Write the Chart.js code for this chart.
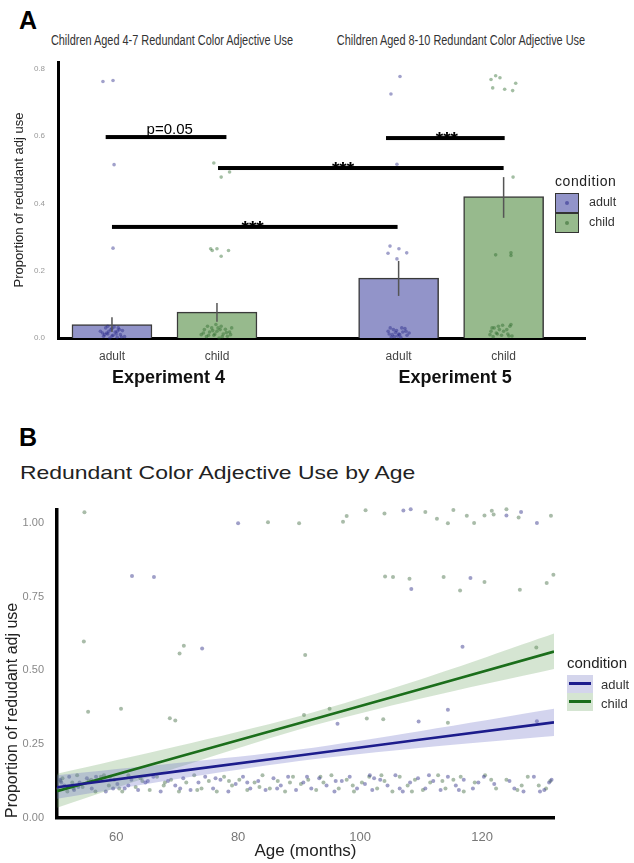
<!DOCTYPE html>
<html lang="en">
<head>
<meta charset="UTF-8">
<title>Redundant Color Adjective Use</title>
<script src="https://cdn.jsdelivr.net/npm/chart.js"></script>
<style>
  body { margin:0; width:634px; height:863px; position:relative; overflow:hidden; background:#fff; font-family:"Liberation Sans", Arial, sans-serif; color:#222; }
  .t { position:absolute; white-space:nowrap; line-height:1; }
  .panel { font-size:25px; font-weight:900; color:#000; }
  .sub { width:320px; text-align:center; font-size:14px; color:#333; transform:scaleX(0.78); }
  .key { position:absolute; box-sizing:border-box; }
  canvas { position:absolute; left:0; }
</style>
</head>
<body>
<div class="t panel" style="left:19px;top:8px">A</div>
<div class="t sub" style="left:12px;top:33px">Children Aged 4-7 Redundant Color Adjective Use</div>
<div class="t sub" style="left:301px;top:33px">Children Aged 8-10 Redundant Color Adjective Use</div>

<canvas id="chartA" width="634" height="360" style="top:40px"></canvas>

<div class="t" style="left:555px;top:174px;font-size:14px;letter-spacing:0.6px">condition</div>
<div class="key" style="left:555px;top:193px;width:24px;height:20px;background:#9294c9;border:1.5px solid #333"></div>
<div class="key" style="left:565px;top:201px;width:4px;height:4px;border-radius:2px;background:#5a5aa8"></div>
<div class="key" style="left:555px;top:213px;width:24px;height:20px;background:#97ba8d;border:1.5px solid #333"></div>
<div class="key" style="left:565px;top:221px;width:4px;height:4px;border-radius:2px;background:#5f8c58"></div>
<div class="t" style="left:589px;top:196px;font-size:12.5px;color:#333">adult</div>
<div class="t" style="left:589px;top:216px;font-size:12.5px;color:#333">child</div>

<div class="t panel" style="left:19px;top:425px">B</div>
<div class="t" style="left:20px;top:464px;font-size:18.5px;color:#222;transform:scaleX(1.24);transform-origin:left center">Redundant Color Adjective Use by Age</div>

<canvas id="chartB" width="634" height="373" style="top:490px"></canvas>

<div class="t" style="left:567px;top:655px;font-size:15px">condition</div>
<div class="key" style="left:567px;top:675px;width:26px;height:18px;background:#d4d5ec"></div>
<div class="key" style="left:569px;top:682px;width:22px;height:3px;background:#1c1c8c"></div>
<div class="key" style="left:567px;top:693px;width:26px;height:18px;background:#d5e5d2"></div>
<div class="key" style="left:569px;top:700px;width:22px;height:3px;background:#1b6e1b"></div>
<div class="t" style="left:601px;top:678px;font-size:13px;color:#333">adult</div>
<div class="t" style="left:601px;top:697px;font-size:13px;color:#333">child</div>

<script>
// ---- Panel A: bar means per condition ----
const barLabels = ['adult', 'child', 'adult', 'child'];
const barCond = ['adult', 'child', 'adult', 'child'];
const barPos = [1, 2, 3.73, 4.73];
const barMeans = [0.04, 0.077, 0.178, 0.42];
const errLow = [0.018, 0.048, 0.125, 0.357];
const errHigh = [0.062, 0.104, 0.229, 0.478];
const experiments = ['Experiment 4', 'Experiment 5'];

// significance brackets
const sigFrom = [0.94, 1.0, 2.01, 3.61];
const sigTo = [2.09, 3.72, 4.73, 4.74];
const sigY = [0.597, 0.33, 0.505, 0.594];
const sigText = ['p=0.05', '***', '***', '***'];
const sigTextX = [1.55, 2.34, 3.2, 4.19];

// jittered participant points (panel A)
const adultJitX = [0.914, 1.01, 1.02, 1.01,
  0.89, 0.92, 0.94, 0.96, 0.98, 0.99, 1.01, 1.03, 1.05, 1.06, 1.08, 1.10, 1.12, 0.95, 1.02,
  0.93, 0.97, 1.0, 1.04, 1.07, 0.91, 1.09, 1.0, 0.96, 1.05,
  3.743, 3.657, 3.714, 3.648, 3.733, 3.807, 3.629, 3.714,
  3.63, 3.65, 3.67, 3.69, 3.71, 3.73, 3.75, 3.77, 3.79, 3.81, 3.83,
  3.64, 3.68, 3.72, 3.76, 3.8, 3.7, 3.74, 3.66];
const adultJitY = [0.762, 0.765, 0.515, 0.267,
  0.02, 0.005, 0.03, 0.012, 0.0, 0.025, 0.008, 0.018, 0.002, 0.03, 0.01, 0.022, 0.004, 0.015, 0.033,
  0.01, 0.02, 0.006, 0.012, 0.025, 0.015, 0.003, 0.028, 0.035, 0.02,
  0.777, 0.725, 0.516, 0.273, 0.265, 0.253, 0.252, 0.235,
  0.02, 0.03, 0.01, 0.004, 0.022, 0.012, 0.002, 0.018, 0.028, 0.008, 0.015,
  0.012, 0.025, 0.006, 0.03, 0.02, 0.016, 0.01, 0.003];
const childJitX = [1.97, 2.04, 2.12, 1.94, 2.0, 2.11, 2.04, 1.955,
  1.85, 1.88, 1.9, 1.93, 1.95, 1.97, 2.0, 2.02, 2.04, 2.06, 2.08, 2.1, 2.12, 2.14, 1.99,
  1.87, 1.92, 1.96, 2.01, 2.05, 2.09, 2.13, 1.98, 2.03, 1.91,
  4.61, 4.654, 4.695, 4.845, 4.626, 4.74, 4.816, 4.82, 4.654, 4.80, 4.80,
  4.6, 4.62, 4.63, 4.66, 4.69, 4.71, 4.73, 4.77, 4.79, 4.8, 4.81,
  4.61, 4.64, 4.67, 4.72, 4.76, 4.78, 4.68];
const childJitY = [0.52, 0.478, 0.493, 0.265, 0.265, 0.26, 0.243, 0.26,
  0.01, 0.025, 0.004, 0.018, 0.03, 0.008, 0.02, 0.0, 0.035, 0.012, 0.026, 0.005, 0.018, 0.03, 0.04,
  0.015, 0.008, 0.022, 0.03, 0.004, 0.016, 0.01, 0.012, 0.025, 0.035,
  0.768, 0.779, 0.773, 0.757, 0.743, 0.739, 0.735, 0.478, 0.247, 0.253, 0.245,
  0.01, 0.03, 0.004, 0.015, 0.025, 0.008, 0.02, 0.012, 0.035, 0.04, 0.006,
  0.02, 0.03, 0.012, 0.038, 0.025, 0.006, 0.035];

// ---- Panel B: age regression ----
const fitAge = [50.3, 70, 90, 110, 131.8];
const adultFit = [0.104, 0.158, 0.212, 0.266, 0.324];
const adultLo = [0.065, 0.132, 0.193, 0.238, 0.278];
const adultHi = [0.145, 0.186, 0.232, 0.295, 0.37];
const childFit = [0.091, 0.206, 0.321, 0.437, 0.564];
const childLo = [0.035, 0.170, 0.300, 0.405, 0.505];
const childHi = [0.150, 0.243, 0.345, 0.470, 0.625];

const adultAge = [80.0, 62.6, 66.2, 74.1, 107.1, 108.3, 124.0, 126.4, 129.0, 108.4, 118.1, 116.8, 96.3, 109.6, 114.4, 129.0,
  50.8, 51.5, 52.3, 53.1, 54.0, 55.2, 56.0, 57.1, 58.3, 59.0,
  60.2, 61.4, 62.5, 63.6, 64.8, 66.1, 67.3, 68.5, 69.7, 71.0,
  72.2, 73.5, 74.6, 75.9, 77.1, 78.4, 79.6, 80.8, 82.0, 83.3,
  84.5, 85.8, 87.0, 88.2, 89.5, 90.7, 92.0, 93.3, 94.5, 95.8,
  97.0, 98.3, 99.5, 100.8, 101.6, 102.0, 103.3, 104.5, 105.8, 107.0,
  108.2, 109.5, 110.7, 112.0, 113.2, 114.4, 115.7, 117.0, 118.5, 120.3,
  122.0, 124.5, 126.8, 128.5, 130.2, 131.0,
  51.0, 53.8, 56.7, 59.5, 62.0, 65.2, 70.5, 76.3, 81.5, 86.4,
  91.3, 96.0, 102.3, 106.5, 111.3, 116.2, 119.4, 125.3, 129.5, 131.4];
const adultProp = [0.999, 0.82, 0.817, 0.574, 1.042, 1.046, 1.025, 1.037, 1.0, 0.776, 0.813, 0.58, 0.319, 0.327, 0.367, 0.328,
  0.13, 0.11, 0.14, 0.095, 0.12, 0.135, 0.10, 0.125, 0.09, 0.14,
  0.115, 0.10, 0.13, 0.095, 0.12, 0.14, 0.09, 0.125, 0.11, 0.135,
  0.095, 0.12, 0.14, 0.10, 0.13, 0.09, 0.115, 0.14, 0.10, 0.125,
  0.095, 0.135, 0.11, 0.14, 0.095, 0.12, 0.10, 0.135, 0.11, 0.09,
  0.125, 0.14, 0.10, 0.115, 0.145, 0.095, 0.13, 0.11, 0.145, 0.09,
  0.12, 0.135, 0.10, 0.125, 0.095, 0.14, 0.11, 0.13, 0.10, 0.14,
  0.115, 0.125, 0.09, 0.14, 0.095, 0.12,
  0.12, 0.105, 0.14, 0.10, 0.11, 0.125, 0.10, 0.135, 0.12, 0.10,
  0.14, 0.125, 0.135, 0.10, 0.145, 0.095, 0.12, 0.10, 0.09, 0.13];
const childAge = [54.8, 84.9, 90.0, 97.2, 97.8, 54.7, 71.1, 70.4, 91.0, 100.9,
  104.0, 110.7, 112.6, 114.4, 115.3, 117.5, 118.7, 120.4, 121.6, 121.9,
  124.0, 126.0, 131.3, 104.1, 105.4, 108.1, 113.7, 120.4, 116.4, 126.2,
  130.6, 131.7, 128.9, 55.4, 60.8, 68.8, 69.7, 90.8, 95.0, 101.1, 103.8, 114.4,
  50.5, 51.2, 52.0, 52.8, 53.6, 54.5, 55.5, 56.6, 57.5, 58.8,
  59.7, 61.0, 62.0, 63.2, 64.3, 65.5, 66.7, 67.8, 69.0, 70.3,
  71.5, 72.8, 74.0, 75.2, 76.5, 77.7, 79.0, 80.2, 81.5, 82.7,
  84.0, 85.2, 86.5, 87.7, 89.0, 90.3, 91.5, 92.8, 94.0, 95.3,
  96.5, 97.8, 99.0, 100.3, 101.5, 102.8, 104.0, 105.3, 106.5, 107.8,
  109.0, 110.3, 111.5, 112.8, 114.0, 115.3, 117.0, 118.8, 120.5, 122.3,
  124.0, 125.8, 127.5, 129.3, 131.2,
  50.9, 53.0, 55.9, 58.0, 60.5, 64.0, 68.0, 73.3, 78.5, 83.5,
  88.5, 93.5, 98.8, 103.5, 108.5, 113.5, 116.5, 121.5, 126.5, 130.5];
const childProp = [1.036, 1.002, 0.999, 1.004, 1.023, 0.598, 0.584, 0.557, 0.552, 1.043,
  1.032, 1.037, 1.014, 0.999, 1.044, 1.024, 1.0, 1.025, 1.041, 1.028,
  1.046, 1.018, 1.024, 0.818, 0.817, 0.811, 0.817, 0.80, 0.771, 0.773,
  0.796, 0.824, 0.578, 0.36, 0.37, 0.338, 0.33, 0.349, 0.37, 0.337, 0.335, 0.323,
  0.10, 0.135, 0.09, 0.12, 0.145, 0.105, 0.125, 0.09, 0.14, 0.11,
  0.13, 0.09, 0.145, 0.105, 0.125, 0.095, 0.14, 0.11, 0.13, 0.09,
  0.12, 0.145, 0.10, 0.125, 0.09, 0.14, 0.11, 0.13, 0.095, 0.12,
  0.145, 0.10, 0.125, 0.09, 0.14, 0.115, 0.13, 0.095, 0.12, 0.145,
  0.10, 0.13, 0.09, 0.12, 0.14, 0.10, 0.125, 0.09, 0.14, 0.11,
  0.13, 0.095, 0.12, 0.145, 0.10, 0.13, 0.09, 0.12, 0.145, 0.10,
  0.13, 0.095, 0.14, 0.11, 0.125,
  0.125, 0.10, 0.13, 0.145, 0.10, 0.135, 0.12, 0.095, 0.125, 0.105,
  0.12, 0.14, 0.11, 0.145, 0.09, 0.125, 0.14, 0.13, 0.11, 0.10];

const pts = (xs, ys) => xs.map((v, i) => ({ x: v, y: ys[i] }));
const barsFor = cond => barPos.map((p, i) => ({ x: p, y: barMeans[i] })).filter((d, i) => barCond[i] === cond);

// draws error bars, significance brackets and experiment labels
const annotateA = {
  id: 'annotateA',
  afterDatasetsDraw(chart) {
    const { ctx, scales: { x, y }, chartArea } = chart;
    ctx.save();
    ctx.strokeStyle = '#555';
    ctx.lineWidth = 1.5;
    barPos.forEach((p, i) => {
      const px = x.getPixelForValue(p);
      ctx.beginPath();
      ctx.moveTo(px, y.getPixelForValue(errLow[i]));
      ctx.lineTo(px, y.getPixelForValue(errHigh[i]));
      ctx.stroke();
    });
    ctx.fillStyle = '#000';
    ctx.textAlign = 'center';
    ctx.textBaseline = 'alphabetic';
    sigText.forEach((s, i) => {
      const py = y.getPixelForValue(sigY[i]);
      if (s === '***') {
        ctx.font = 'bold 19px "Liberation Sans", Arial';
        ctx.fillText(s, x.getPixelForValue(sigTextX[i]), py + 7);
      } else {
        ctx.font = '15px "Liberation Sans", Arial';
        ctx.fillText(s, x.getPixelForValue(sigTextX[i]), py - 3);
      }
      ctx.fillRect(x.getPixelForValue(sigFrom[i]), py - 2, x.getPixelForValue(sigTo[i]) - x.getPixelForValue(sigFrom[i]), 4);
    });
    ctx.font = 'bold 18px "Liberation Sans", Arial';
    ctx.fillStyle = '#111';
    ctx.textBaseline = 'middle';
    experiments.forEach((e, k) => {
      const mid = (barPos[k * 2] + barPos[k * 2 + 1]) / 2;
      ctx.fillText(e, x.getPixelForValue(mid) + 4, chartArea.bottom + 40);
    });
    ctx.restore();
  }
};

new Chart(document.getElementById('chartA'), {
  type: 'bar',
  data: {
    datasets: [
      { type: 'scatter', label: 'adult points', data: pts(adultJitX, adultJitY), backgroundColor: 'rgba(30,30,130,0.42)', pointRadius: 1.8, borderWidth: 0, clip: false, order: 1 },
      { type: 'scatter', label: 'child points', data: pts(childJitX, childJitY), backgroundColor: 'rgba(35,100,35,0.42)', pointRadius: 1.8, borderWidth: 0, clip: false, order: 1 },
      { label: 'adult', data: barsFor('adult'), backgroundColor: '#9294c9', borderColor: '#3a3a3a', borderWidth: 1.5, barThickness: 80, grouped: false, order: 2 },
      { label: 'child', data: barsFor('child'), backgroundColor: '#97ba8d', borderColor: '#3a3a3a', borderWidth: 1.5, barThickness: 80, grouped: false, order: 2 }
    ]
  },
  options: {
    responsive: false,
    animation: false,
    events: [],
    layout: { padding: { top: 22, right: 49, left: 0, bottom: 0 } },
    plugins: { legend: { display: false }, tooltip: { enabled: false } },
    scales: {
      x: {
        type: 'linear', min: 0.486, max: 5.505, offset: false,
        grid: { display: false, drawTicks: false, offset: false },
        border: { display: true, color: '#000', width: 3 },
        afterBuildTicks: s => { s.ticks = barPos.map(v => ({ value: v })); },
        afterFit: s => { s.height = 62; },
        ticks: { autoSkip: false, maxRotation: 0, padding: 11, color: '#444', font: { size: 12, family: '"Liberation Sans", Arial' }, callback: (v, i) => barLabels[i] }
      },
      y: {
        min: 0, max: 0.82,
        grid: { display: false, drawTicks: false },
        border: { display: true, color: '#000', width: 3 },
        afterFit: s => { s.width = 58; },
        ticks: { stepSize: 0.2, includeBounds: false, padding: 13, color: '#999', font: { size: 8, family: '"Liberation Sans", Arial' }, callback: v => v.toFixed(1) },
        title: { display: true, text: 'Proportion of redudant adj use', color: '#222', padding: { top: 12 }, font: { size: 13, family: '"Liberation Sans", Arial' } }
      }
    }
  },
  plugins: [annotateA]
});

new Chart(document.getElementById('chartB'), {
  type: 'line',
  data: {
    datasets: [
      { label: 'adult', data: pts(adultAge, adultProp), showLine: false, pointRadius: 2, pointBorderWidth: 0, pointBackgroundColor: 'rgba(55,55,140,0.48)', clip: false, order: 3 },
      { label: 'child', data: pts(childAge, childProp), showLine: false, pointRadius: 2, pointBorderWidth: 0, pointBackgroundColor: 'rgba(75,115,75,0.48)', clip: false, order: 3 },
      { label: 'adult upper', data: pts(fitAge, adultHi), fill: '+1', backgroundColor: 'rgba(110,112,200,0.3)', borderWidth: 0, pointRadius: 0, tension: 0.3, order: 2 },
      { label: 'adult lower', data: pts(fitAge, adultLo), fill: false, borderWidth: 0, pointRadius: 0, tension: 0.3, order: 2 },
      { label: 'child upper', data: pts(fitAge, childHi), fill: '+1', backgroundColor: 'rgba(100,160,90,0.27)', borderWidth: 0, pointRadius: 0, tension: 0.3, order: 2 },
      { label: 'child lower', data: pts(fitAge, childLo), fill: false, borderWidth: 0, pointRadius: 0, tension: 0.3, order: 2 },
      { label: 'adult fit', data: pts(fitAge, adultFit), borderColor: '#1c1c8c', borderWidth: 2.6, pointRadius: 0, fill: false, order: 1 },
      { label: 'child fit', data: pts(fitAge, childFit), borderColor: '#1b6e1b', borderWidth: 2.6, pointRadius: 0, fill: false, order: 1 }
    ]
  },
  options: {
    responsive: false,
    animation: false,
    events: [],
    layout: { padding: { top: 13.5, right: 80, left: 0, bottom: 0 } },
    plugins: { legend: { display: false }, tooltip: { enabled: false } },
    scales: {
      x: {
        type: 'linear', min: 50.3, max: 131.8,
        grid: { display: false, drawTicks: false },
        border: { display: true, color: '#000', width: 3.5 },
        afterFit: s => { s.height = 45; },
        ticks: { stepSize: 20, includeBounds: false, padding: 12, color: '#777', font: { size: 13, family: '"Liberation Sans", Arial' } },
        title: { display: true, text: 'Age (months)', color: '#222', padding: { bottom: 1 }, font: { size: 17, family: '"Liberation Sans", Arial' } }
      },
      y: {
        min: 0, max: 1.045,
        grid: { display: false, drawTicks: false },
        border: { display: true, color: '#000', width: 3.5 },
        afterFit: s => { s.width = 57; },
        ticks: { stepSize: 0.25, includeBounds: false, padding: 13, color: '#888', font: { size: 11, family: '"Liberation Sans", Arial' }, callback: v => v.toFixed(2) },
        title: { display: true, text: 'Proportion of redudant adj use', color: '#222', align: 'start', padding: { top: 3 }, font: { size: 16, family: '"Liberation Sans", Arial' } }
      }
    }
  }
});
</script>
</body>
</html>
